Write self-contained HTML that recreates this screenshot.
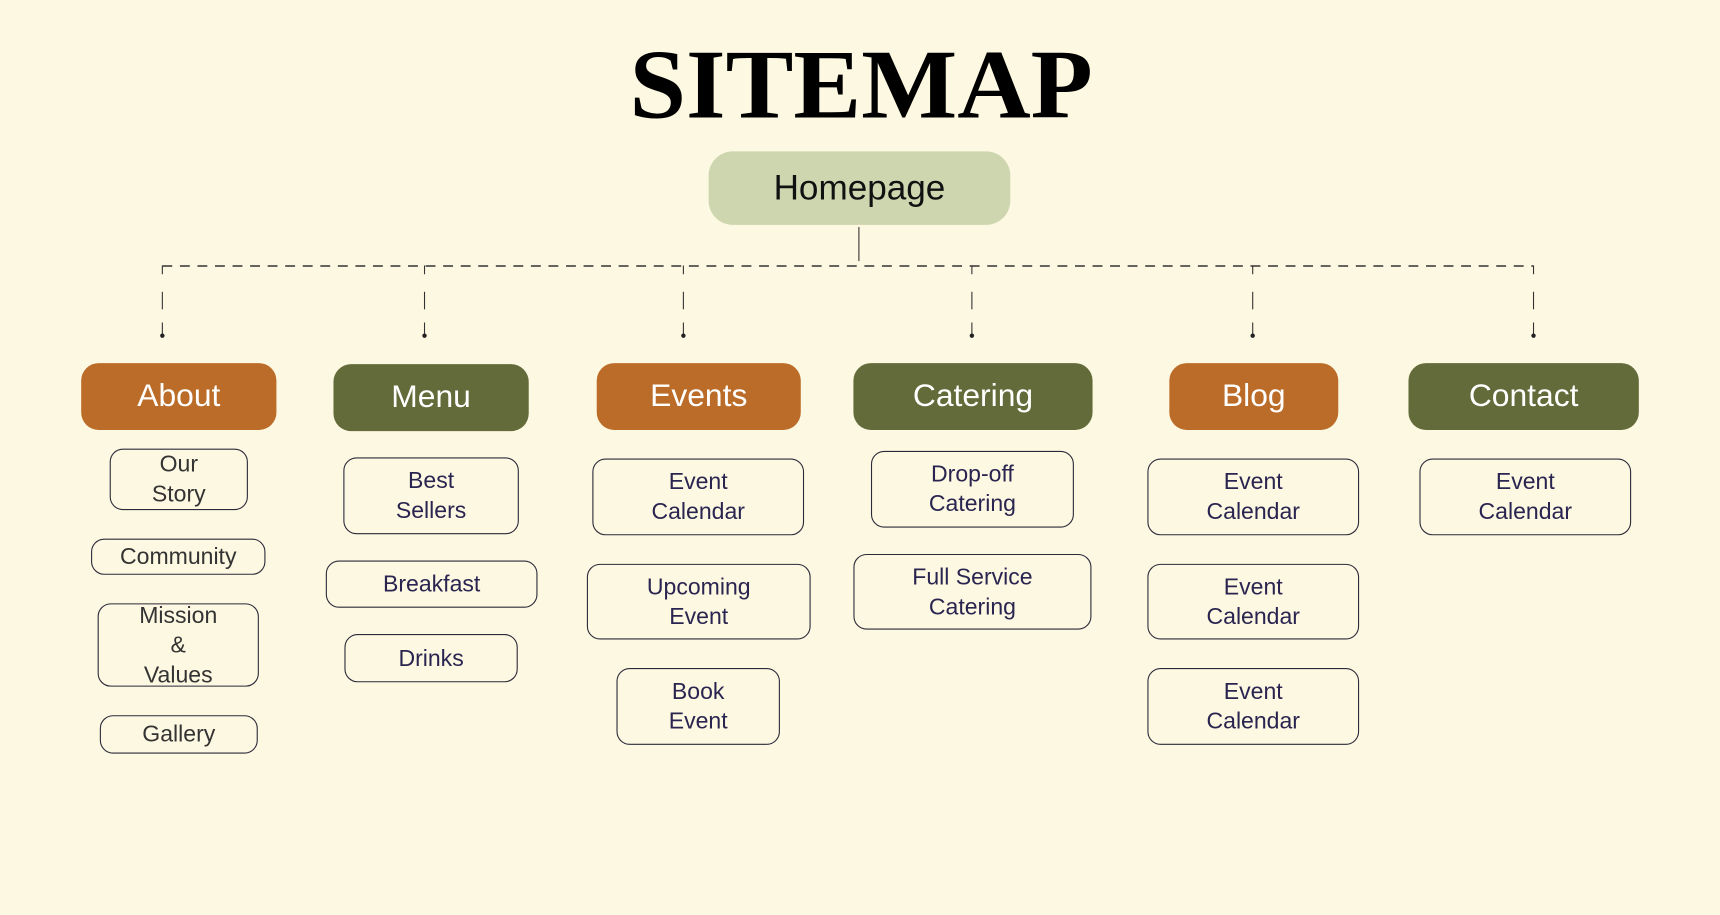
<!DOCTYPE html>
<html><head><meta charset="utf-8"><style>
html,body{margin:0;padding:0;background:#fdf8e1;width:1720px;height:915px;overflow:hidden}
#w{position:absolute;left:0;top:0;width:1568px;height:834px;transform:scale(1.09694);transform-origin:0 0;font-family:"Liberation Sans",sans-serif}
.b{position:absolute;box-sizing:border-box;display:flex;align-items:center;justify-content:center;text-align:center}
.c{color:#fff;font-size:29px;border-radius:16px}
.o{background:#bb6c28}.g{background:#626b39}
.s{border:1.2px solid #2a2a3a;border-radius:12px;color:#2a2550;font-size:21px;line-height:27px}
#t{position:absolute;left:560px;top:28px;width:450px;text-align:center;font-family:"Liberation Serif",serif;font-weight:bold;font-size:90px;line-height:100px;color:#000;transform:scaleX(1.03);transform-origin:center}
</style></head><body><div id="w">
<div id="t">SITEMAP</div>
<div class="b" style="left:646px;top:138px;width:275px;height:67px;background:#cdd6ae;border-radius:22px;font-size:32px;color:#111">Homepage</div>
<svg style="position:absolute;left:0;top:0" width="1568" height="834">
<line x1="783" y1="207" x2="783" y2="238" stroke="#333" stroke-width="1"/>
<line x1="148" y1="242.5" x2="1398" y2="242.5" stroke="#333" stroke-width="1.3" stroke-dasharray="9,7"/>
<g stroke="#333" stroke-width="1">
<line x1="148" y1="242" x2="148" y2="250"/><line x1="148" y1="266" x2="148" y2="282"/><line x1="148" y1="294" x2="148" y2="305"/>
<line x1="387" y1="242" x2="387" y2="250"/><line x1="387" y1="266" x2="387" y2="282"/><line x1="387" y1="294" x2="387" y2="305"/>
<line x1="623" y1="242" x2="623" y2="250"/><line x1="623" y1="266" x2="623" y2="282"/><line x1="623" y1="294" x2="623" y2="305"/>
<line x1="886" y1="242" x2="886" y2="250"/><line x1="886" y1="266" x2="886" y2="282"/><line x1="886" y1="294" x2="886" y2="305"/>
<line x1="1142" y1="242" x2="1142" y2="250"/><line x1="1142" y1="266" x2="1142" y2="282"/><line x1="1142" y1="294" x2="1142" y2="305"/>
<line x1="1398" y1="242" x2="1398" y2="250"/><line x1="1398" y1="266" x2="1398" y2="282"/><line x1="1398" y1="294" x2="1398" y2="305"/>
</g>
<g fill="#222"><circle cx="148" cy="306" r="2"/><circle cx="387" cy="306" r="2"/><circle cx="623" cy="306" r="2"/><circle cx="886" cy="306" r="2"/><circle cx="1142" cy="306" r="2"/><circle cx="1398" cy="306" r="2"/></g>
</svg>
<div class="b c o" style="left:74px;top:331px;width:178px;height:61px">About</div>
<div class="b c g" style="left:304px;top:332px;width:178px;height:61px">Menu</div>
<div class="b c o" style="left:544px;top:331px;width:186px;height:61px">Events</div>
<div class="b c g" style="left:778px;top:331px;width:218px;height:61px">Catering</div>
<div class="b c o" style="left:1066px;top:331px;width:154px;height:61px">Blog</div>
<div class="b c g" style="left:1284px;top:331px;width:210px;height:61px">Contact</div>

<div class="b s" style="left:100px;top:409px;width:126px;height:56px;color:#333">Our<br>Story</div>
<div class="b s" style="left:83px;top:491px;width:159px;height:33px;color:#333">Community</div>
<div class="b s" style="left:89px;top:550px;width:147px;height:76px;color:#333">Mission<br>&amp;<br>Values</div>
<div class="b s" style="left:91px;top:652px;width:144px;height:35px;color:#333">Gallery</div>

<div class="b s" style="left:313px;top:417px;width:160px;height:70px">Best<br>Sellers</div>
<div class="b s" style="left:297px;top:511px;width:193px;height:43px">Breakfast</div>
<div class="b s" style="left:314px;top:578px;width:158px;height:44px">Drinks</div>

<div class="b s" style="left:540px;top:418px;width:193px;height:70px">Event<br>Calendar</div>
<div class="b s" style="left:535px;top:514px;width:204px;height:69px">Upcoming<br>Event</div>
<div class="b s" style="left:562px;top:609px;width:149px;height:70px">Book<br>Event</div>

<div class="b s" style="left:794px;top:411px;width:185px;height:70px">Drop-off<br>Catering</div>
<div class="b s" style="left:778px;top:505px;width:217px;height:69px">Full Service<br>Catering</div>

<div class="b s" style="left:1046px;top:418px;width:193px;height:70px">Event<br>Calendar</div>
<div class="b s" style="left:1046px;top:514px;width:193px;height:69px">Event<br>Calendar</div>
<div class="b s" style="left:1046px;top:609px;width:193px;height:70px">Event<br>Calendar</div>

<div class="b s" style="left:1294px;top:418px;width:193px;height:70px">Event<br>Calendar</div>
</div></body></html>
